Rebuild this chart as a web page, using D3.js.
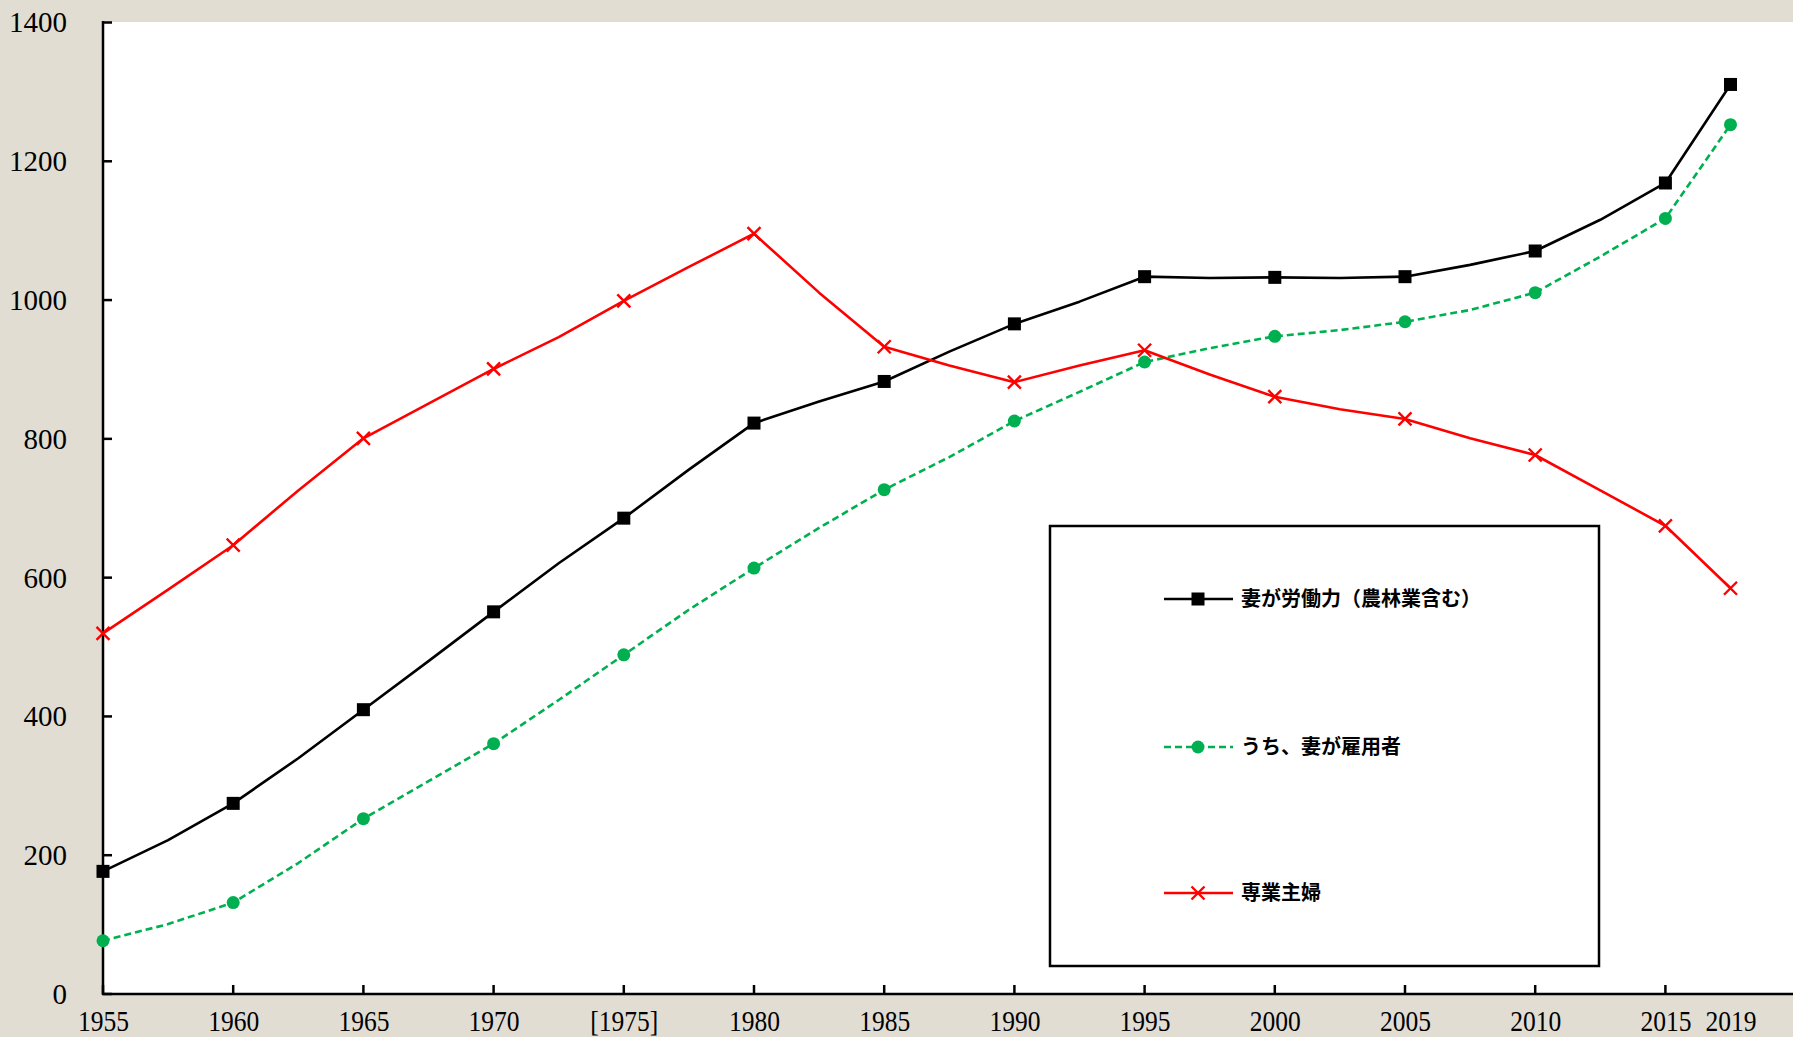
<!DOCTYPE html>
<html lang="ja">
<head>
<meta charset="utf-8">
<script src="https://cdn.jsdelivr.net/npm/d3@7"></script>
<style>
  html, body { margin: 0; padding: 0; background: #e2ddd3; }
  svg { display: block; }
</style>
</head>
<body>
<svg id="chart" width="1793" height="1037"></svg>
<script>
// Survey points every 2.5 years from 1955 to 2015, then 2019 (unit: 万世帯)
const categories = [
  "1955", "1957.5", "1960", "1962.5", "1965", "1967.5", "1970", "1972.5",
  "1975", "1977.5", "1980", "1982.5", "1985", "1987.5", "1990", "1992.5",
  "1995", "1997.5", "2000", "2002.5", "2005", "2007.5", "2010", "2012.5",
  "2015", "2019"
];

// Categories that carry a label, a tick and a marker
const labelledCategories = [
  "1955", "1960", "1965", "1970", "1975", "1980", "1985", "1990",
  "1995", "2000", "2005", "2010", "2015", "2019"
];
const tickCategories = labelledCategories.filter(c => c !== "2019");
const tickLabels = {
  "1955": "1955", "1960": "1960", "1965": "1965", "1970": "1970",
  "1975": "[1975]", "1980": "1980", "1985": "1985", "1990": "1990",
  "1995": "1995", "2000": "2000", "2005": "2005", "2010": "2010",
  "2015": "2015", "2019": "2019"
};

const yTicks = [0, 200, 400, 600, 800, 1000, 1200, 1400];

// 妻が労働力（農林業含む）
const wifeInLabourForce = [
  176, 221, 274, 339, 409, 479, 550, 620, 685, 755, 822, 853, 882,
  925, 965, 997, 1033, 1031, 1032, 1031, 1033, 1050, 1070, 1115, 1168, 1310
];
// うち、妻が雇用者
const wifeEmployed = [
  76, 100, 131, 188, 252, 306, 360, 423, 488, 553, 613, 671, 726,
  773, 825, 867, 910, 930, 947, 956, 968, 985, 1010, 1062, 1117, 1252
];
// 専業主婦
const housewife = [
  519, 582, 646, 725, 800, 850, 900, 946, 998, 1047, 1095, 1010, 932,
  905, 881, 905, 927, 892, 860, 842, 828, 800, 776, 725, 674, 584
];

const seriesNames = ["妻が労働力（農林業含む）", "うち、妻が雇用者", "専業主婦"];
const seriesValues = [wifeInLabourForce, wifeEmployed, housewife];

const styles = [
  { color: "#000000", dash: null, marker: "square" },
  { color: "#00b050", dash: "7,4", marker: "circle" },
  { color: "#ff0000", dash: null, marker: "cross" }
];

const W = 1793, H = 1037;
const plot = { left: 103, top: 22, right: 1793, bottom: 994 };

const svg = d3.select("#chart");

// background and plot area
svg.append("rect").attr("x", 0).attr("y", 0).attr("width", W).attr("height", H).attr("fill", "#e2ddd3");
svg.append("rect")
  .attr("x", plot.left).attr("y", plot.top)
  .attr("width", plot.right - plot.left).attr("height", plot.bottom - plot.top)
  .attr("fill", "#ffffff");

const x = d3.scalePoint()
  .domain(categories)
  .range([plot.left, plot.left + 25 * 65.1]);

const y = d3.scaleLinear()
  .domain([0, 1400])
  .range([plot.bottom - 0.5, plot.top]);

// y axis: ticks pointing into the plot, labels on the left
const yAxis = d3.axisLeft(y).tickValues(yTicks).tickSize(-9).tickPadding(36).tickFormat(d3.format("d"));
const gy = svg.append("g").attr("transform", `translate(${plot.left},0)`).call(yAxis);
gy.select(".domain").remove();
gy.selectAll(".tick line").attr("stroke", "#000").attr("stroke-width", 2.5);
gy.selectAll(".tick text")
  .attr("font-family", "'Liberation Serif', 'DejaVu Serif', serif")
  .attr("font-size", 29)
  .attr("fill", "#000")
  .attr("dy", "0.34em");
svg.append("line")
  .attr("x1", plot.left).attr("x2", plot.left)
  .attr("y1", plot.top - 1).attr("y2", plot.bottom + 1)
  .attr("stroke", "#000").attr("stroke-width", 2.5);

// x axis: labels on every other category, condensed serif digits
const xAxis = d3.axisBottom(x)
  .tickValues(labelledCategories)
  .tickSize(0)
  .tickFormat(d => tickLabels[d]);
const gx = svg.append("g").attr("transform", `translate(0,${plot.bottom})`).call(xAxis);
gx.select(".domain").remove();
gx.selectAll(".tick text")
  .attr("font-family", "'Liberation Serif', 'DejaVu Serif', serif")
  .attr("font-size", 29)
  .attr("fill", "#000")
  .attr("x", 0)
  .attr("y", 37)
  .attr("dy", 0)
  .attr("transform", "scale(0.88,1)");

// tick marks point upward into the plot
svg.append("g").selectAll("line")
  .data(tickCategories)
  .join("line")
  .attr("x1", d => x(d)).attr("x2", d => x(d))
  .attr("y1", plot.bottom).attr("y2", plot.bottom - 9)
  .attr("stroke", "#000").attr("stroke-width", 2.5);
svg.append("line")
  .attr("x1", plot.left - 1).attr("x2", plot.right)
  .attr("y1", plot.bottom).attr("y2", plot.bottom)
  .attr("stroke", "#000").attr("stroke-width", 2.5);

// markers
function drawMarker(g, kind, color, cx, cy) {
  if (kind === "square") {
    g.append("rect").attr("x", cx - 6.5).attr("y", cy - 6.5).attr("width", 13).attr("height", 13).attr("fill", color);
  } else if (kind === "circle") {
    g.append("circle").attr("cx", cx).attr("cy", cy).attr("r", 6.5).attr("fill", color);
  } else {
    const s = 6.5;
    g.append("path")
      .attr("d", `M${cx - s},${cy - s}L${cx + s},${cy + s}M${cx - s},${cy + s}L${cx + s},${cy - s}`)
      .attr("stroke", color).attr("stroke-width", 2.4).attr("fill", "none");
  }
}

const line = d3.line()
  .x(d => x(d.cat))
  .y(d => y(d.value));

// draw employed first, then labour force, then housewives on top
[1, 0, 2].forEach(i => {
  const st = styles[i];
  const pts = categories.map((c, k) => ({ cat: c, value: seriesValues[i][k] }));
  const g = svg.append("g");
  g.append("path")
    .datum(pts)
    .attr("d", line)
    .attr("fill", "none")
    .attr("stroke", st.color)
    .attr("stroke-width", 2.6)
    .attr("stroke-dasharray", st.dash)
    .attr("stroke-linejoin", "round");
  pts.filter(p => labelledCategories.includes(p.cat))
    .forEach(p => drawMarker(g, st.marker, st.color, x(p.cat), y(p.value)));
});

// legend
const legend = svg.append("g");
legend.append("rect")
  .attr("x", 1050).attr("y", 526).attr("width", 549).attr("height", 440)
  .attr("fill", "#fff").attr("stroke", "#000").attr("stroke-width", 2.5);
const legendY = [599, 747, 893];
seriesNames.forEach((name, i) => {
  const st = styles[i];
  const ly = legendY[i];
  legend.append("line")
    .attr("x1", 1164).attr("x2", 1233).attr("y1", ly).attr("y2", ly)
    .attr("stroke", st.color).attr("stroke-width", 2.6)
    .attr("stroke-dasharray", st.dash);
  drawMarker(legend, st.marker, st.color, 1198, ly);
  legend.append("text")
    .attr("x", 1241).attr("y", ly).attr("dy", "0.36em")
    .attr("font-family", "'Noto Sans CJK JP', sans-serif")
    .attr("font-size", 20)
    .attr("font-weight", 700)
    .attr("fill", "#000")
    .text(name);
});
</script>
</body>
</html>
